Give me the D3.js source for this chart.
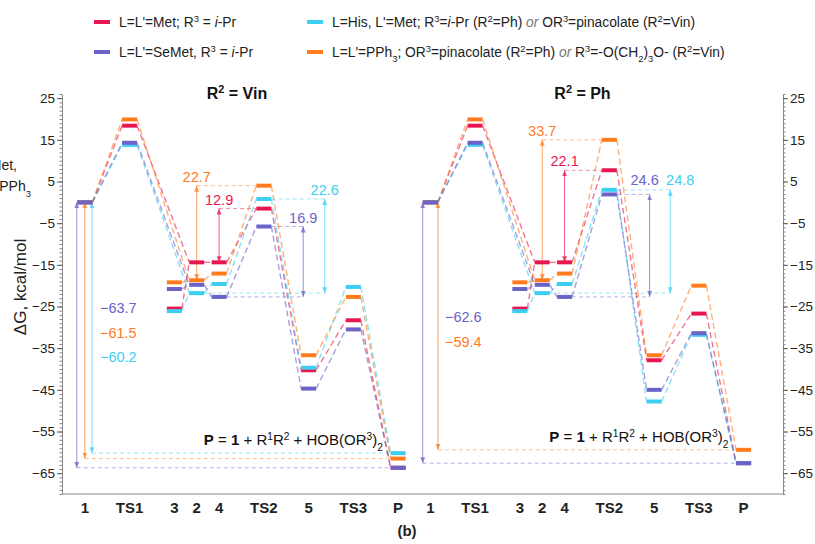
<!DOCTYPE html>
<html>
<head>
<meta charset="utf-8">
<script src="https://cdn.jsdelivr.net/npm/d3@7"></script>
<style>
body { margin: 0; background: #fff; }
svg { font-family: "Liberation Sans", Arial, Helvetica, sans-serif; }
</style>
</head>
<body>
<svg id="chart" width="815" height="544"></svg>
<script>
// steps along the reaction path
const steps = ["1", "TS1", "3", "2", "4", "TS2", "5", "TS3", "P"];
const stepPos = [0, 1, 2, 2.5, 3, 4, 5, 6, 7];
// which steps are joined by dashed connectors (index pairs)
const links = [[0, 1], [1, 3], [2, 3], [3, 4], [4, 5], [5, 6], [6, 7], [7, 8]];

// free energies, kcal/mol, R2 = Vin
const vinRed    = [0, 18.4, -25.5, -14.4, -14.4, -1.5, -40.3, -28.3, -63.7];
const vinPurple = [0, 14.3, -20.8, -19.8, -22.7, -5.8, -44.7, -30.5, -63.7];
const vinCyan   = [0, 13.8, -26.1, -21.8, -19.6, 0.8, -39.7, -20.3, -60.2];
const vinOrange = [0, 19.9, -19.2, -18.7, -17.1, 4.0, -36.7, -22.7, -61.5];
// R2 = Ph
const phRed    = [0, 18.4, -25.5, -14.4, -14.4, 7.7, -37.9, -26.7, -62.6];
const phPurple = [0, 14.3, -20.8, -19.8, -22.7, 1.9, -45.0, -31.4, -62.6];
const phCyan   = [0, 13.8, -26.1, -21.8, -19.6, 3.0, -47.8, -31.8, -62.6];
const phOrange = [0, 19.9, -19.2, -18.7, -17.1, 15.0, -36.7, -20.0, -59.4];

// barriers: series, arrow x, top step, bottom step, label
const vinBarriers = [
  {s: "orange", at: 2.5, top: 5, bottom: 3, label: "22.7"},
  {s: "red", at: 3, top: 5, bottom: 4, label: "12.9"},
  {s: "purple", at: 4.88, top: 5, bottom: 4, label: "16.9"},
  {s: "cyan", at: 5.36, top: 5, bottom: 3, label: "22.6"}
];
const phBarriers = [
  {s: "orange", at: 2.5, top: 5, bottom: 3, label: "33.7"},
  {s: "red", at: 3, top: 5, bottom: 4, label: "22.1"},
  {s: "purple", at: 4.9, top: 5, bottom: 4, label: "24.6"},
  {s: "cyan", at: 5.36, top: 5, bottom: 3, label: "24.8"}
];
// overall reaction energies
const vinTotals = [
  {s: "purple", at: -0.18, label: "\u221263.7"},
  {s: "orange", at: 0, label: "\u221261.5"},
  {s: "cyan", at: 0.16, label: "\u221260.2"}
];
const phTotals = [
  {s: "purple", at: -0.17, label: "\u221262.6"},
  {s: "orange", at: 0.17, label: "\u221259.4"}
];

const majorTicks = [25, 15, 5, -5, -15, -25, -35, -45, -55, -65];

const colors = {red: "#e8174f", purple: "#6b63c8", cyan: "#3ccff1", orange: "#ff7b1d"};
const drawOrder = ["red", "cyan", "orange", "purple"];

const panels = [
  {title: "Vin", offset: 0, data: {red: vinRed, purple: vinPurple, cyan: vinCyan, orange: vinOrange},
   barriers: vinBarriers, totals: vinTotals, labelX: 100, labelY: 313, pY: 445},
  {title: "Ph", offset: 7.72, data: {red: phRed, purple: phPurple, cyan: phCyan, orange: phOrange},
   barriers: phBarriers, totals: phTotals, labelX: 445, labelY: 322, pY: 442}
];

let svg = d3.select("#chart");

let x = d3.scaleLinear().domain([-0.51, 15.6]).range([62, 783]);
let y = d3.scaleLinear().domain([-70, 26]).range([494, 94]);

const half = 7.5; // half bar width in px

function fmt(v) {
  return v < 0 ? "\u2212" + Math.abs(v) : String(v);
}

function rich(g, parts, attrs) {
  let t = g.append("text");
  for (const k in attrs) t.attr(k, attrs[k]);
  parts.forEach(p => {
    let s = t.append("tspan").text(p.t);
    if (p.sup) s.attr("baseline-shift", "super").attr("font-size", "68%");
    if (p.sub) s.attr("baseline-shift", "sub").attr("font-size", "68%");
    if (p.b) s.attr("font-weight", "bold");
    if (p.i) s.attr("font-style", "italic");
    if (p.fill) s.attr("fill", p.fill);
  });
  return t;
}

// arrow heads
let defs = svg.append("defs");
Object.keys(colors).forEach(k => {
  defs.append("marker")
    .attr("id", "ah-" + k)
    .attr("viewBox", "0 0 6 5")
    .attr("refX", 6).attr("refY", 2.5)
    .attr("markerWidth", 6).attr("markerHeight", 5)
    .attr("markerUnits", "userSpaceOnUse")
    .attr("orient", "auto-start-reverse")
    .append("path")
    .attr("d", "M0,0L6,2.5L0,5Z")
    .attr("fill", colors[k])
    .attr("fill-opacity", 0.75);
});

// axes
let minor = d3.range(-70, 27);
svg.append("g").attr("transform", "translate(62,0)")
  .call(d3.axisLeft(y).tickValues(minor).tickSize(2.5).tickSizeOuter(0).tickFormat(""))
  .call(g => g.selectAll("line,path").attr("stroke", "#888"));
svg.append("g").attr("transform", "translate(62,0)")
  .call(d3.axisLeft(y).tickValues(majorTicks).tickSize(5).tickSizeOuter(0).tickFormat(fmt))
  .call(g => g.select(".domain").remove())
  .call(g => g.selectAll("line").attr("stroke", "#555"))
  .call(g => g.selectAll("text").attr("font-size", 13.5).attr("fill", "#222")
    .attr("font-family", "Liberation Sans, Arial, sans-serif").attr("x", -7));

svg.append("g").attr("transform", "translate(783,0)")
  .call(d3.axisRight(y).tickValues(minor).tickSize(2.5).tickSizeOuter(0).tickFormat(""))
  .call(g => g.selectAll("line,path").attr("stroke", "#888"));
svg.append("g").attr("transform", "translate(783,0)")
  .call(d3.axisRight(y).tickValues(majorTicks).tickSize(5).tickSizeOuter(0).tickFormat(fmt))
  .call(g => g.select(".domain").remove())
  .call(g => g.selectAll("line").attr("stroke", "#555"))
  .call(g => g.selectAll("text").attr("font-size", 13.5).attr("fill", "#222")
    .attr("font-family", "Liberation Sans, Arial, sans-serif").attr("x", 7));

svg.append("line")
  .attr("x1", 62).attr("x2", 783)
  .attr("y1", y(-70)).attr("y2", y(-70))
  .attr("stroke", "#888");

// y label
svg.append("text")
  .attr("transform", "translate(26,287) rotate(-90)")
  .attr("text-anchor", "middle")
  .attr("font-size", 17)
  .attr("fill", "#222")
  .text("\u0394G, kcal/mol");

// cut off notes at the left edge
rich(svg, [{t: "L=L'=Met,"}], {x: 17, y: 170, "text-anchor": "end", "font-size": 14, fill: "#222"});
rich(svg, [{t: "L=L'=PPh"}, {t: "3", sub: true}], {x: 31, y: 191, "text-anchor": "end", "font-size": 14, fill: "#222"});

panels.forEach(panel => {
  let g = svg.append("g");
  let px = v => x(v + panel.offset);
  let d = panel.data;

  // title
  rich(g, [{t: "R", b: true}, {t: "2", sup: true, b: true}, {t: " = " + panel.title, b: true}],
    {x: px(3.4), y: 99, "text-anchor": "middle", "font-size": 16, fill: "#111"});

  // step labels
  g.selectAll(".step")
    .data(steps)
    .enter().append("text")
    .attr("x", (s, i) => px(stepPos[i]))
    .attr("y", 513)
    .attr("text-anchor", "middle")
    .attr("font-size", 15)
    .attr("font-weight", "bold")
    .attr("fill", "#222")
    .text(s => s);

  // overall energy arrows + reference lines
  panel.totals.forEach((t, i) => {
    let val = d[t.s][8];
    g.append("line")
      .attr("x1", px(t.at)).attr("x2", px(stepPos[8]) - half)
      .attr("y1", y(val)).attr("y2", y(val))
      .attr("stroke", colors[t.s]).attr("stroke-opacity", 0.5)
      .attr("stroke-width", 1).attr("stroke-dasharray", "4,3");
    g.append("line")
      .attr("x1", px(t.at)).attr("x2", px(t.at))
      .attr("y1", y(d[t.s][0])).attr("y2", y(val))
      .attr("stroke", colors[t.s]).attr("stroke-opacity", 0.7)
      .attr("stroke-width", 1)
      .attr("marker-start", "url(#ah-" + t.s + ")")
      .attr("marker-end", "url(#ah-" + t.s + ")");
    g.append("text")
      .attr("x", panel.labelX)
      .attr("y", panel.labelY + i * 24.5)
      .attr("font-size", 14.5)
      .attr("fill", colors[t.s])
      .text(t.label);
  });

  // barrier arrows
  panel.barriers.forEach(b => {
    let vt = d[b.s][b.top], vb = d[b.s][b.bottom];
    let ax = px(b.at);
    let topBar = px(stepPos[b.top]);
    let topEdge = ax < topBar ? topBar - half : topBar + half;
    g.append("line")
      .attr("x1", ax).attr("x2", topEdge)
      .attr("y1", y(vt)).attr("y2", y(vt))
      .attr("stroke", colors[b.s]).attr("stroke-opacity", 0.5)
      .attr("stroke-width", 1).attr("stroke-dasharray", "4,3");
    let botBar = px(stepPos[b.bottom]);
    if (Math.abs(ax - botBar) > half) {
      g.append("line")
        .attr("x1", botBar + half).attr("x2", ax)
        .attr("y1", y(vb)).attr("y2", y(vb))
        .attr("stroke", colors[b.s]).attr("stroke-opacity", 0.5)
        .attr("stroke-width", 1).attr("stroke-dasharray", "4,3");
    }
    g.append("line")
      .attr("x1", ax).attr("x2", ax)
      .attr("y1", y(vt)).attr("y2", y(vb))
      .attr("stroke", colors[b.s]).attr("stroke-opacity", 0.7)
      .attr("stroke-width", 1)
      .attr("marker-start", "url(#ah-" + b.s + ")")
      .attr("marker-end", "url(#ah-" + b.s + ")");
    let dx = 0, dy = -4;
    if (panel.title === "Ph" && b.s === "purple") { dx = -5; dy = -9; }
    if (panel.title === "Ph" && b.s === "cyan") { dx = 10; dy = -5; }
    g.append("text")
      .attr("x", ax + dx)
      .attr("y", y(vt) + dy)
      .attr("text-anchor", "middle")
      .attr("font-size", 14.5)
      .attr("fill", colors[b.s])
      .text(b.label);
  });

  // dashed connectors
  drawOrder.forEach(s => {
    g.selectAll(".link-" + s)
      .data(links)
      .enter().append("line")
      .attr("x1", l => px(stepPos[l[0]]) + half)
      .attr("y1", l => y(d[s][l[0]]))
      .attr("x2", l => px(stepPos[l[1]]) - half)
      .attr("y2", l => y(d[s][l[1]]))
      .attr("stroke", colors[s])
      .attr("stroke-opacity", 0.6)
      .attr("stroke-width", 1.4)
      .attr("stroke-dasharray", "6,3.5");
  });

  // energy levels
  drawOrder.forEach(s => {
    g.selectAll(".bar-" + s)
      .data(d[s])
      .enter().append("line")
      .attr("x1", (v, i) => px(stepPos[i]) - half)
      .attr("x2", (v, i) => px(stepPos[i]) + half)
      .attr("y1", v => y(v))
      .attr("y2", v => y(v))
      .attr("stroke", colors[s])
      .attr("stroke-width", 4);
  });

  // product note
  rich(g, [{t: "P", b: true}, {t: " = "}, {t: "1", b: true}, {t: " + R"}, {t: "1", sup: true},
    {t: "R"}, {t: "2", sup: true}, {t: " + HOB(OR"}, {t: "3", sup: true}, {t: ")"}, {t: "2", sub: true}],
    {x: px(4.66), y: panel.pY, "text-anchor": "middle", "font-size": 15, fill: "#111"});
});

// panel caption
svg.append("text")
  .attr("x", 407).attr("y", 536)
  .attr("text-anchor", "middle")
  .attr("font-size", 15)
  .attr("font-weight", "bold")
  .attr("fill", "#222")
  .text("(b)");

// legend
const legendItems = [
  {s: "red", col: 0, row: 0, parts: [{t: "L=L'=Met; R"}, {t: "3", sup: true}, {t: " = "}, {t: "i", i: true}, {t: "-Pr"}]},
  {s: "purple", col: 0, row: 1, parts: [{t: "L=L'=SeMet, R"}, {t: "3", sup: true}, {t: " = "}, {t: "i", i: true}, {t: "-Pr"}]},
  {s: "cyan", col: 1, row: 0, parts: [{t: "L=His, L'=Met; R"}, {t: "3", sup: true}, {t: "="}, {t: "i", i: true},
    {t: "-Pr (R"}, {t: "2", sup: true}, {t: "=Ph) "}, {t: "or", i: true, fill: "#777"}, {t: " OR"}, {t: "3", sup: true},
    {t: "=pinacolate (R"}, {t: "2", sup: true}, {t: "=Vin)"}]},
  {s: "orange", col: 1, row: 1, parts: [{t: "L=L'=PPh"}, {t: "3", sub: true}, {t: "; OR"}, {t: "3", sup: true},
    {t: "=pinacolate (R"}, {t: "2", sup: true}, {t: "=Ph) "}, {t: "or", i: true, fill: "#777"}, {t: " R"}, {t: "3", sup: true},
    {t: "=-O(CH"}, {t: "2", sub: true}, {t: ")"}, {t: "3", sub: true}, {t: "O- (R"}, {t: "2", sup: true}, {t: "=Vin)"}]}
];
let legend = svg.append("g");
legendItems.forEach(it => {
  let lx = it.col === 0 ? 94 : 307;
  let ly = it.row === 0 ? 22 : 52;
  legend.append("line")
    .attr("x1", lx).attr("x2", lx + 16)
    .attr("y1", ly).attr("y2", ly)
    .attr("stroke", colors[it.s])
    .attr("stroke-width", 4);
  rich(legend, it.parts, {x: lx + 25, y: ly + 5, "font-size": 13.8, fill: "#222"});
});
</script>
</body>
</html>
